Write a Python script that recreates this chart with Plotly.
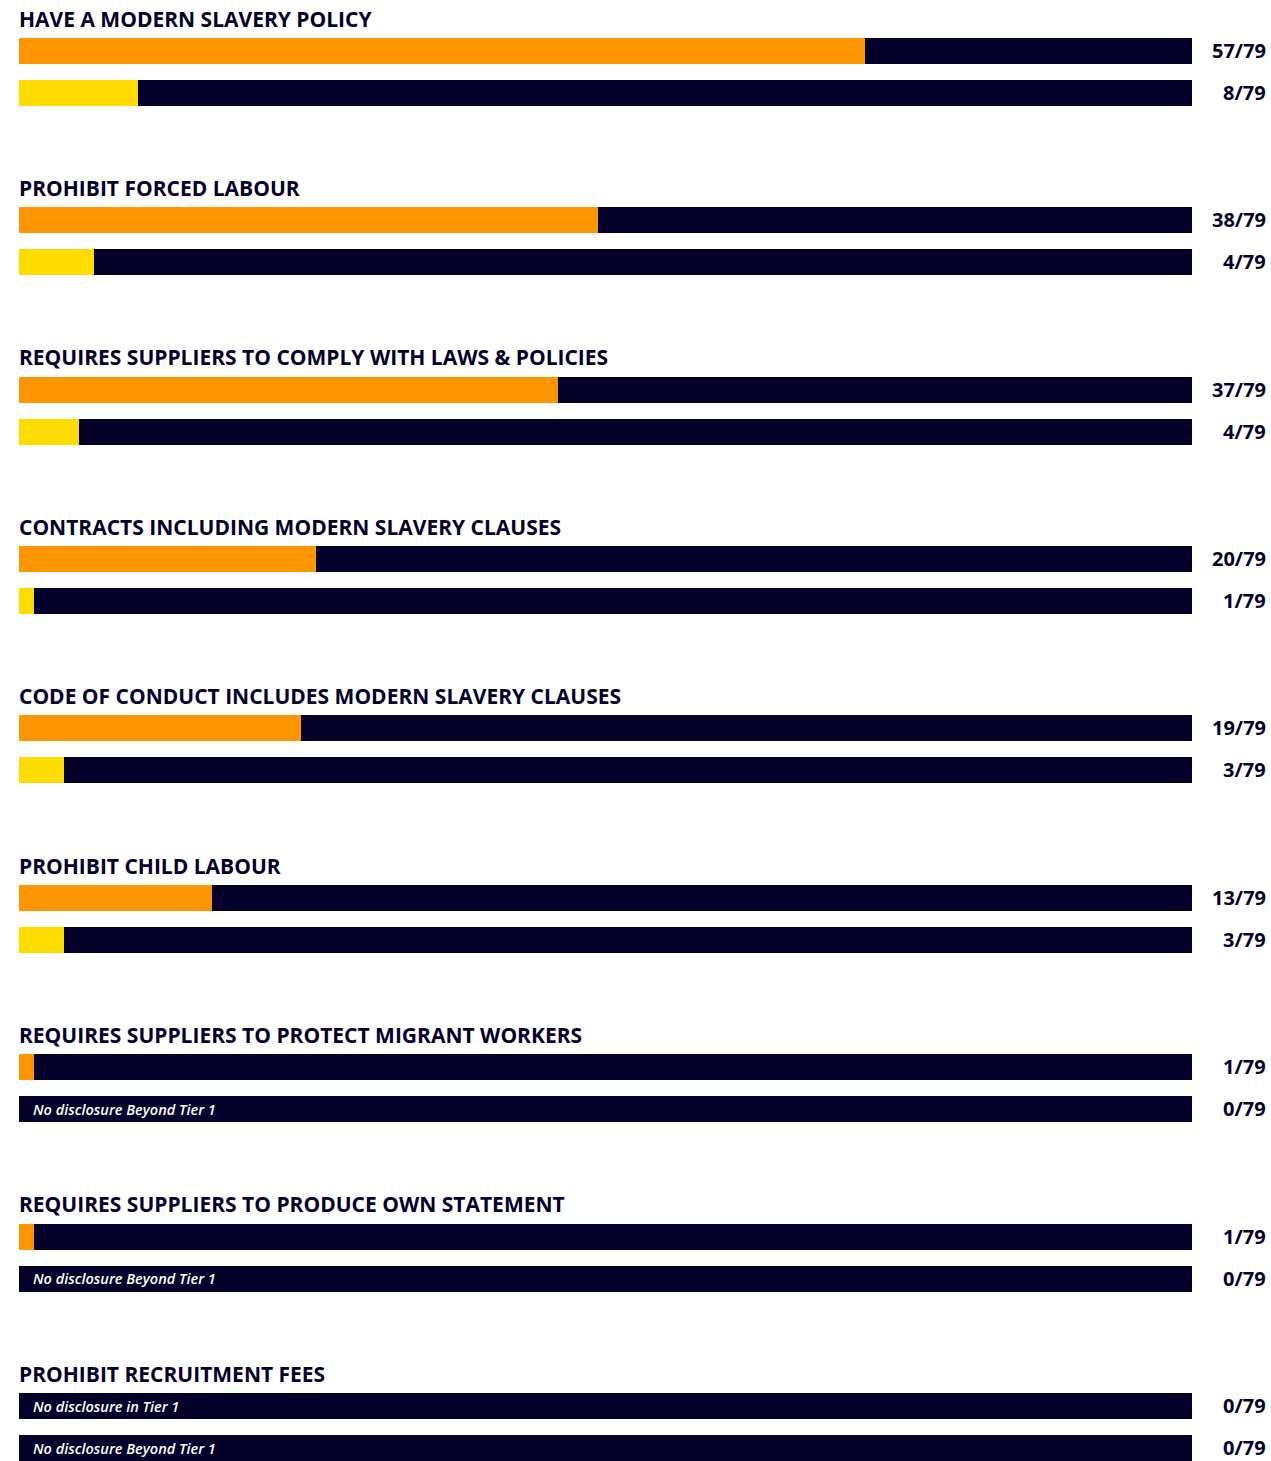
import plotly.graph_objects as go

TOTAL = 79
categories = [
    "HAVE A MODERN SLAVERY POLICY",
    "PROHIBIT FORCED LABOUR",
    "REQUIRES SUPPLIERS TO COMPLY WITH LAWS & POLICIES",
    "CONTRACTS INCLUDING MODERN SLAVERY CLAUSES",
    "CODE OF CONDUCT INCLUDES MODERN SLAVERY CLAUSES",
    "PROHIBIT CHILD LABOUR",
    "REQUIRES SUPPLIERS TO PROTECT MIGRANT WORKERS",
    "REQUIRES SUPPLIERS TO PRODUCE OWN STATEMENT",
    "PROHIBIT RECRUITMENT FEES",
]
# counts shown in the labels
tier1_counts = [57, 38, 37, 20, 19, 13, 1, 1, 0]
beyond_counts = [8, 4, 4, 1, 3, 3, 0, 0, 0]
# bar lengths as drawn in the picture
tier1_bars = [57, 39, 36.3, 20, 19, 13, 1, 1, 0]
beyond_bars = [8, 5.05, 4.05, 1, 3, 3, 0, 0, 0]
tier1_empty_text = "No disclosure in Tier 1"
beyond_empty_text = "No disclosure Beyond Tier 1"

W, H = 1271, 1461
NAVY = "#03002a"
ORANGE = "#ff9500"
YELLOW = "#ffdc00"
FONT = "Open Sans"

GROUP_STEP = 169.4
Y_TITLE0, Y_BAR1, Y_BAR2 = 18.5, 50.8, 92.8
BAR_H = 26

y1 = [Y_BAR1 + GROUP_STEP * i for i in range(len(categories))]
y2 = [Y_BAR2 + GROUP_STEP * i for i in range(len(categories))]

fig = go.Figure()
# background (total) bars
fig.add_trace(go.Bar(x=[TOTAL] * len(categories), y=y1, orientation="h", width=BAR_H,
                     marker=dict(color=NAVY, line=dict(width=0)), hoverinfo="skip"))
fig.add_trace(go.Bar(x=[TOTAL] * len(categories), y=y2, orientation="h", width=BAR_H,
                     marker=dict(color=NAVY, line=dict(width=0)), hoverinfo="skip"))
# value bars
fig.add_trace(go.Bar(x=tier1_bars, y=y1, orientation="h", width=BAR_H,
                     marker=dict(color=ORANGE, line=dict(width=0)), name="Tier 1"))
fig.add_trace(go.Bar(x=beyond_bars, y=y2, orientation="h", width=BAR_H,
                     marker=dict(color=YELLOW, line=dict(width=0)), name="Beyond Tier 1"))

annotations = []
for i, cat in enumerate(categories):
    annotations.append(dict(text=cat, x=17 / W, xref="paper", xanchor="left",
                            y=Y_TITLE0 + GROUP_STEP * i, yref="y", yanchor="middle",
                            showarrow=False,
                            font=dict(family=FONT, size=21, color=NAVY, weight=700)))
    for yy, cnt, empty in ((y1[i], tier1_counts[i], tier1_empty_text),
                           (y2[i], beyond_counts[i], beyond_empty_text)):
        annotations.append(dict(text=f"{cnt}/{TOTAL}", x=1268 / W, xref="paper", xanchor="right",
                                y=yy - 0.5, yref="y", yanchor="middle", showarrow=False,
                                font=dict(family=FONT, size=20, color=NAVY, weight=700)))
        if cnt == 0:
            annotations.append(dict(text=f"<i>{empty}</i>", x=31 / W, xref="paper", xanchor="left",
                                    y=yy, yref="y", yanchor="middle", showarrow=False,
                                    font=dict(family=FONT, size=14.5, color="white", weight=600)))

fig.update_layout(
    width=W, height=H,
    margin=dict(l=0, r=0, t=0, b=0),
    paper_bgcolor="white", plot_bgcolor="white",
    barmode="overlay", bargap=0,
    showlegend=False,
    xaxis=dict(domain=[19 / W, 1192 / W], range=[0, TOTAL], visible=False, fixedrange=True),
    yaxis=dict(domain=[0, 1], range=[H, 0], visible=False, fixedrange=True),
    annotations=annotations,
)

fig.write_html("out.html", config={"displayModeBar": False})
